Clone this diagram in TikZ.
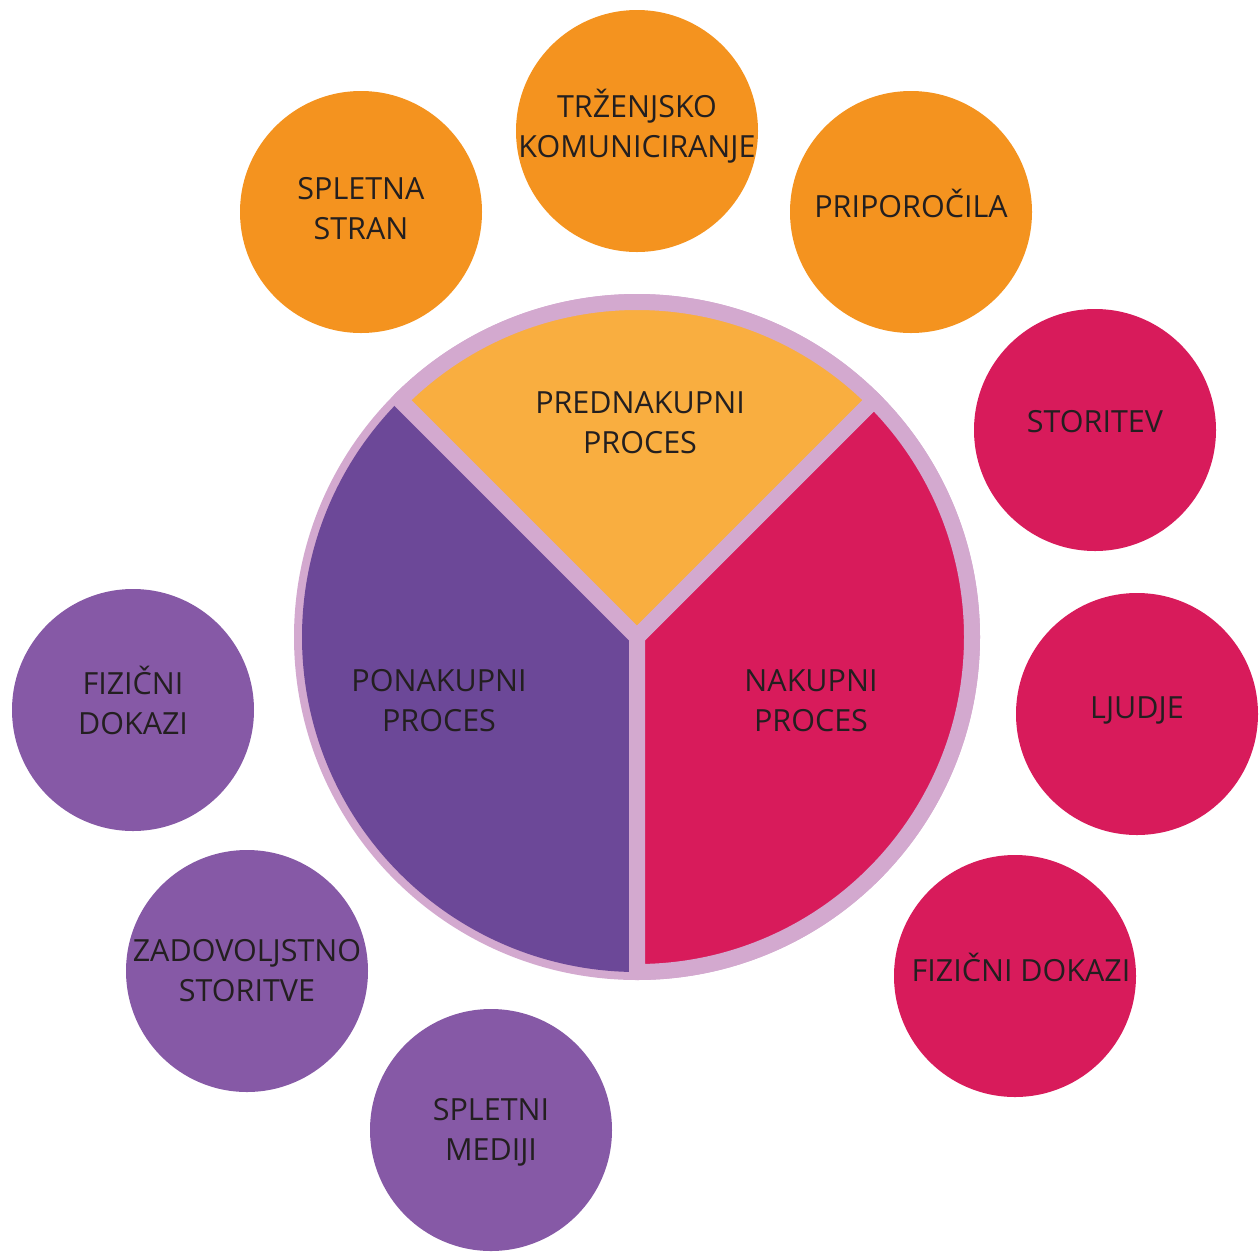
\documentclass[tikz,border=0pt]{standalone}
\usepackage{fontspec}
\setmainfont{Open Sans}
\definecolor{orangec}{HTML}{F4931F}
\definecolor{yellowc}{HTML}{F9AE40}
\definecolor{redc}{HTML}{D81B5B}
\definecolor{purplec}{HTML}{6C4898}
\definecolor{lilac}{HTML}{8659A6}
\definecolor{ringc}{HTML}{D3A9CF}
\definecolor{textc}{HTML}{231F20}
\begin{document}
\begin{tikzpicture}[x=1pt,y=-1pt,
  circ/.style={circle,fill=#1,draw=none,minimum size=242pt,inner sep=0pt},
  txt/.style={text=textc,align=center,inner sep=0pt,font=\fontsize{30.5}{40}\selectfont}]
\useasboundingbox (0,0) rectangle (1259,1251);
% outer circle and sectors
\begin{scope}[shift={(637,637)},y=1pt]
  \fill[ringc] (0,0) circle (343);
  \fill[yellowc] (0,0) -- (45:335) arc[start angle=45,end angle=135,radius=335] -- cycle;
  \fill[redc] (0,0) -- (-90:335) arc[start angle=-90,end angle=45,radius=335] -- cycle;
  \fill[purplec] (0,0) -- (135:335) arc[start angle=135,end angle=270,radius=335] -- cycle;
  \draw[ringc,line width=16pt,line join=round] (0,0) -- (45:335) arc[start angle=45,end angle=135,radius=335] -- cycle;
  \draw[ringc,line width=16pt,line join=round] (0,0) -- (-90:335) arc[start angle=-90,end angle=45,radius=335] -- cycle;
\end{scope}
\node[txt] (pre) at (640,423) {PREDNAKUPNI\\PROCES};
\node[txt] (po) at (439,701) {PONAKUPNI\\PROCES};
\node[txt] (na) at (811,701) {NAKUPNI\\PROCES};
% orange circles
\node[circ=orangec] (c1) at (361,212) {};
\node[txt] (t1) at (361,209) {SPLETNA\\STRAN};
\node[circ=orangec] (c2) at (637,131) {};
\node[txt] (t2) at (637,126) {TRŽENJSKO\\KOMUNICIRANJE};
\node[circ=orangec] (c3) at (911,212) {};
\node[txt] (t3) at (911,203) {PRIPOROČILA};
% red circles
\node[circ=redc] (c4) at (1095,430) {};
\node[txt] (t4) at (1095,422) {STORITEV};
\node[circ=redc] (c5) at (1137,714) {};
\node[txt] (t5) at (1137,710) {LJUDJE};
\node[circ=redc] (c6) at (1015,976) {};
\node[txt] (t6) at (1021,967) {FIZIČNI DOKAZI};
% purple circles
\node[circ=lilac] (c7) at (133,710) {};
\node[txt] (t7) at (133,700) {FIZIČNI\\DOKAZI};
\node[circ=lilac] (c8) at (247,971) {};
\node[txt] (t8) at (247,971) {ZADOVOLJSTNO\\STORITVE};
\node[circ=lilac] (c9) at (491,1130) {};
\node[txt] (t9) at (491,1132) {SPLETNI\\MEDIJI};
\end{tikzpicture}
\end{document}
